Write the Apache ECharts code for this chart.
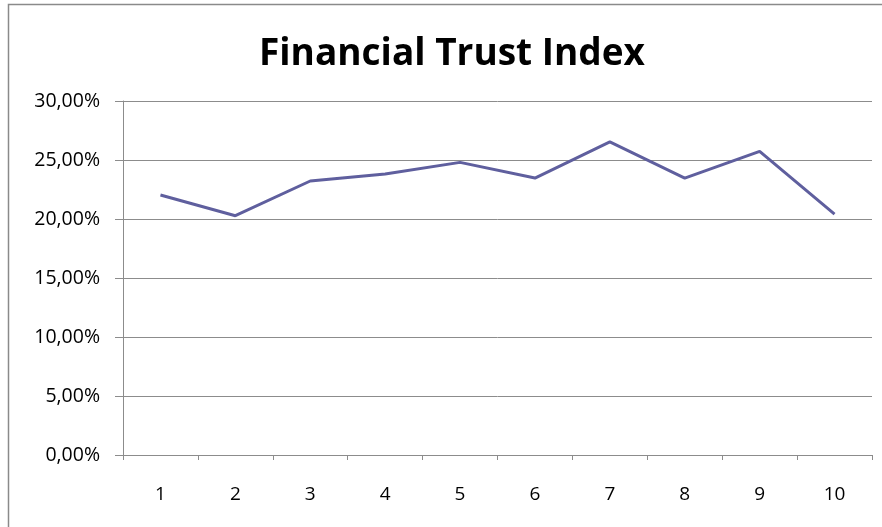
<!DOCTYPE html>
<html>
<head>
<meta charset="utf-8">
<script src="https://cdn.jsdelivr.net/npm/echarts@6/dist/echarts.min.js"></script>
<style>html,body{margin:0;padding:0;background:#fff}#c{width:882px;height:527px}</style>
</head>
<body>
<div id="c"></div>
<script>
var categories = ['1','2','3','4','5','6','7','8','9','10'];
var trustIndex = [22.03, 20.28, 23.22, 23.81, 24.80, 23.47, 26.53, 23.47, 25.73, 20.42];
var yTicks = [0, 5, 10, 15, 20, 25, 30];

var chart = echarts.init(document.getElementById('c'), null, {renderer: 'canvas'});
chart.setOption({
  animation: false,
  backgroundColor: '#fff',
  graphic: [{
    type: 'rect',
    shape: {x: 8.5, y: 4.5, width: 900, height: 600},
    style: {fill: 'none', stroke: '#8a8a8a', lineWidth: 1.5},
    silent: true
  }],
  title: {
    text: 'Financial Trust Index',
    left: 447,
    textAlign: 'center',
    top: 31,
    textStyle: {fontFamily: 'Open Sans', fontWeight: 'bold', fontSize: 37, color: '#000'}
  },
  grid: {left: 123, right: 10, top: 101, bottom: 72, containLabel: false},
  xAxis: {
    type: 'category',
    data: categories,
    boundaryGap: true,
    axisLine: {lineStyle: {color: '#8c8c8c', width: 1}},
    axisTick: {show: true, length: 5, lineStyle: {color: '#8c8c8c'}},
    axisLabel: {fontFamily: 'Open Sans', fontSize: 19, color: '#000', margin: 30}
  },
  yAxis: {
    type: 'value',
    min: yTicks[0],
    max: yTicks[yTicks.length - 1],
    interval: 5,
    axisLine: {show: true, lineStyle: {color: '#8c8c8c', width: 1}},
    axisTick: {show: true, length: 8, lineStyle: {color: '#8c8c8c'}},
    splitLine: {show: true, lineStyle: {color: '#8c8c8c', width: 1}},
    axisLabel: {
      fontFamily: 'Open Sans', fontSize: 19.5, color: '#000', margin: 23,
      formatter: function (v) { return v.toFixed(2).replace('.', ',') + '%'; }
    }
  },
  series: [{
    type: 'line',
    data: trustIndex,
    symbol: 'none',
    lineStyle: {color: '#5f5f9e', width: 3},
    itemStyle: {color: '#5f5f9e'}
  }]
});
</script>
</body>
</html>
